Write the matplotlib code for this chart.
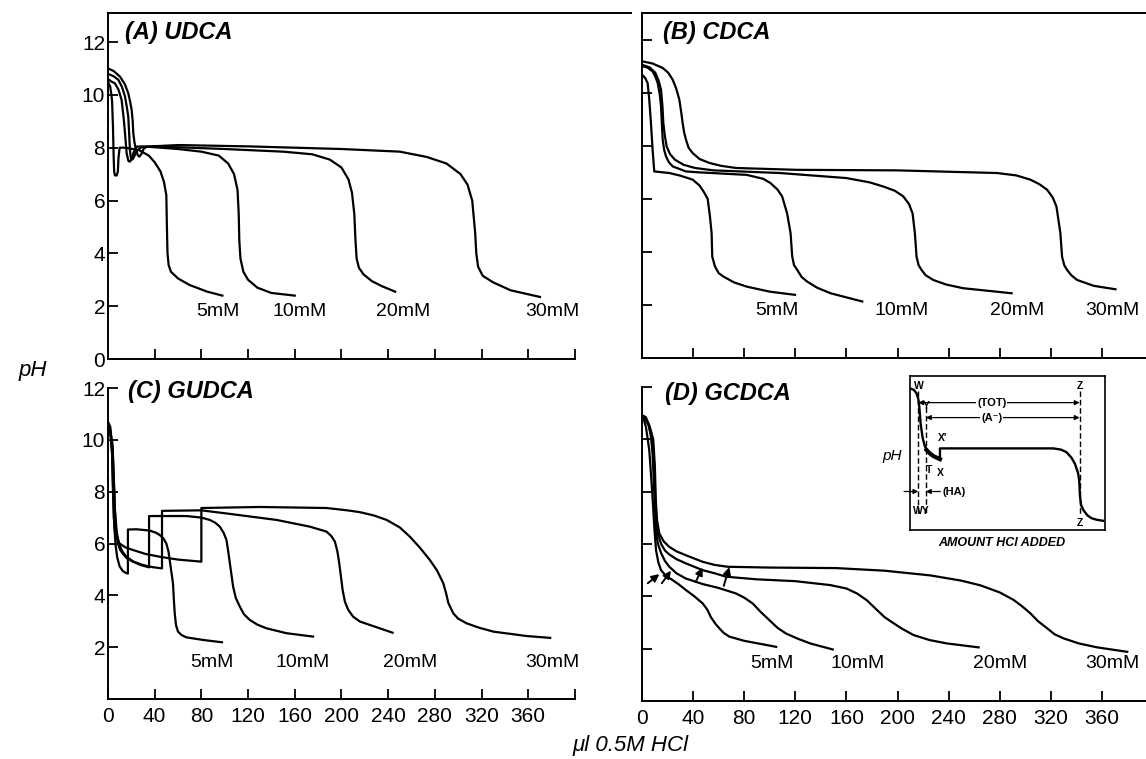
import matplotlib.pyplot as plt

plt.rcParams['font.family'] = ['Liberation Sans Narrow', 'Liberation Sans', 'DejaVu Sans']

# titration curves: (ul 0.5M HCl, pH)
udca_5 = [(0, 10.5), (2, 10.3), (3.5, 9.8), (4.3, 8.8), (4.8, 7.8), (5.3, 7.1), (6, 6.95), (7.5, 6.95),
          (8.5, 7.1), (9, 7.6), (10, 8.0), (15, 8.0), (27, 7.9), (35, 7.7), (40, 7.45), (45, 7.1),
          (48, 6.7), (50, 6.2), (50.5, 5.0), (51, 4.0), (52, 3.55), (54, 3.3), (60, 3.05), (70, 2.8),
          (85, 2.55), (98, 2.4)]
udca_10 = [(0, 10.6), (3, 10.5), (5.9, 10.44), (9, 10.2), (11.7, 9.81), (13.5, 9.1), (14.6, 8.55),
           (16, 7.79), (17.5, 7.5), (18.8, 7.47), (20.5, 7.6), (21.7, 7.79), (24.5, 8.04), (30, 8.05),
           (60, 7.95), (80, 7.85), (95, 7.7), (103, 7.4), (108, 7.0), (111, 6.4), (112, 5.5),
           (112.5, 4.5), (113.5, 3.8), (116, 3.3), (120, 3.0), (128, 2.7), (140, 2.5), (160, 2.4)]
udca_20 = [(0, 10.8), (5, 10.7), (8.9, 10.57), (12, 10.3), (14.6, 9.94), (16.3, 9.5), (17.4, 9.18),
           (18.2, 8.5), (18.8, 7.92), (19.5, 7.65), (20.3, 7.54), (21.5, 7.58), (22.8, 7.7),
           (25, 7.9), (28.8, 8.02), (40, 8.05), (100, 7.95), (150, 7.85), (175, 7.75), (190, 7.55),
           (200, 7.25), (206, 6.8), (209, 6.3), (211, 5.5), (212, 4.5), (213, 3.8), (215, 3.45),
           (219, 3.2), (226, 2.95), (235, 2.75), (246, 2.55)]
udca_30 = [(0, 11.0), (5, 10.9), (10.3, 10.69), (14.5, 10.4), (17.4, 10.06), (19.2, 9.7), (20.3, 9.43),
           (21.2, 9.0), (21.7, 8.55), (22.7, 8.2), (24, 7.92), (25.5, 7.72), (26.8, 7.66), (28.5, 7.75),
           (30.5, 7.95), (33, 8.04), (60, 8.1), (120, 8.05), (200, 7.95), (250, 7.85), (273, 7.65),
           (290, 7.4), (302, 7.0), (308, 6.6), (312, 6.0), (314.5, 4.8), (315.5, 4.0), (317, 3.5),
           (321, 3.15), (330, 2.9), (345, 2.6), (370, 2.35)]

cdca_5 = [(0, 10.68), (2.5, 10.55), (4.4, 10.36), (5.6, 9.8), (7, 8.86), (8.3, 7.85), (9.6, 7.03),
          (21.4, 6.97), (30, 6.87), (39.7, 6.72), (45, 6.5), (48.5, 6.25), (51.4, 6.0), (53.2, 5.33),
          (54.5, 4.7), (55, 3.82), (57.1, 3.45), (60, 3.2), (63.7, 3.07), (72, 2.85), (82, 2.69),
          (100, 2.5), (119.8, 2.38)]
cdca_10 = [(0, 11.0), (4, 10.95), (8.3, 10.8), (10.5, 10.6), (12.3, 10.36), (14, 9.9), (14.9, 9.48),
           (15.6, 8.8), (16.2, 8.23), (17.3, 7.85), (18.8, 7.6), (21, 7.38), (24, 7.22), (34.4, 7.03),
           (43, 7.0), (82, 6.9), (95, 6.75), (100.6, 6.59), (106, 6.35), (109.7, 6.09), (113.6, 5.45),
           (116.3, 4.7), (117.6, 3.82), (119, 3.5), (121.5, 3.32), (125, 3.05), (129.3, 2.88),
           (137, 2.65), (147.6, 2.44), (172.4, 2.13)]
cdca_20 = [(0, 11.05), (6, 10.95), (10.4, 10.75), (13, 10.45), (14.9, 10.11), (16, 9.5), (16.7, 8.86),
           (17.8, 8.4), (19.3, 7.97), (22, 7.68), (25.8, 7.47), (32.6, 7.28), (41.5, 7.16), (56, 7.07),
           (108, 6.97), (160, 6.78), (178, 6.62), (189, 6.46), (198, 6.3), (204.5, 6.09), (209, 5.8),
           (211.8, 5.45), (213.6, 4.7), (214.9, 3.82), (216.5, 3.5), (218.8, 3.32), (222, 3.12),
           (228, 2.94), (238, 2.77), (251.4, 2.63), (289.3, 2.44)]
cdca_30 = [(0, 11.18), (8, 11.1), (16.2, 10.93), (20.5, 10.75), (24, 10.49), (26.8, 10.15),
           (29.2, 9.74), (30.6, 9.3), (31.8, 8.86), (33, 8.5), (34.4, 8.23), (36.5, 7.92),
           (39.7, 7.72), (45, 7.5), (52.7, 7.35), (62, 7.24), (73.6, 7.16), (121.3, 7.09),
           (199.6, 7.07), (277.9, 6.97), (293, 6.88), (304, 6.72), (311, 6.55), (317.1, 6.34),
           (321.5, 6.05), (324.4, 5.71), (327.5, 4.7), (328.8, 3.82), (330.5, 3.5), (332.7, 3.32),
           (336, 3.12), (340.6, 2.94), (353.6, 2.72), (370.6, 2.59)]

gudca_5 = [(0, 10.6), (2, 10.3), (3.5, 9.5), (4.5, 8.0), (5.5, 6.6), (6.5, 5.95), (8, 5.45),
           (10, 5.12), (12.5, 4.95), (15, 4.87), (17.1, 4.84), (17.1, 6.54), (24.3, 6.55),
           (35.7, 6.5), (41, 6.42), (44.3, 6.33), (47.5, 6.2), (50, 6.0), (51.8, 5.7), (52.9, 5.36),
           (55.7, 4.46), (56.5, 3.8), (57.2, 3.3), (58.3, 2.85), (60, 2.6), (63, 2.47), (67.2, 2.38),
           (81.4, 2.28), (97.7, 2.19)]
gudca_10 = [(0, 10.6), (2, 10.4), (4, 9.8), (5, 8.5), (6, 7.2), (7.1, 6.4), (8.5, 6.0), (10.5, 5.75),
            (12.9, 5.6), (16, 5.44), (21.4, 5.3), (28, 5.17), (35.2, 5.08), (35.2, 7.06), (67.2, 7.06),
            (80, 7.0), (87.2, 6.91), (92, 6.8), (95.8, 6.65), (99, 6.42), (101.5, 6.14), (103, 5.7),
            (104.4, 5.24), (107.2, 4.34), (109.5, 3.9), (112.9, 3.57), (116.5, 3.27), (121.5, 3.05),
            (128, 2.87), (135.7, 2.73), (152.9, 2.54), (175.7, 2.41)]
gudca_20 = [(0, 10.5), (2, 10.3), (4, 9.6), (5, 8.5), (6, 7.3), (7.5, 6.45), (9.5, 6.0), (12, 5.72),
            (15.7, 5.49), (22, 5.3), (30, 5.17), (38, 5.09), (46.3, 5.04), (46.3, 7.26), (80, 7.28),
            (101.5, 7.16), (144.4, 6.91), (173, 6.65), (187.2, 6.46), (191.5, 6.28), (194.4, 6.07),
            (196.5, 5.7), (198.1, 5.24), (201, 4.21), (203, 3.75), (205.8, 3.44), (210, 3.18),
            (215.8, 2.99), (230.1, 2.77), (243.8, 2.56)]
gudca_30 = [(0, 10.7), (2, 10.5), (3.5, 9.5), (4.3, 8.0), (5, 7.0), (6, 6.5), (7.5, 6.2), (10, 6.0),
            (15, 5.85), (21.4, 5.75), (32, 5.6), (44.3, 5.49), (60, 5.38), (80, 5.3), (80, 7.37),
            (130, 7.41), (187.2, 7.37), (205, 7.28), (215.8, 7.21), (228, 7.08), (238.7, 6.91),
            (250, 6.62), (258.7, 6.26), (267, 5.85), (275.8, 5.36), (282, 4.95), (287.3, 4.46),
            (289.8, 4.05), (291.6, 3.7), (295.9, 3.3), (300, 3.1), (307.3, 2.92), (318, 2.75),
            (330.2, 2.6), (358.8, 2.43), (378.8, 2.36)]

gcdca_5 = [(0, 10.92), (1.5, 10.75), (3.1, 10.47), (4.5, 10.0), (5.7, 9.58), (7, 8.7), (8.4, 7.67),
           (9.7, 6.6), (11, 5.76), (12.8, 5.3), (14.9, 5.0), (18.5, 4.8), (24, 4.62), (29, 4.45),
           (34.4, 4.24), (41, 4.0), (47.5, 3.73), (51, 3.5), (54, 3.2), (57.5, 2.95), (60.5, 2.78),
           (64, 2.6), (68.4, 2.46), (80, 2.3), (105, 2.07)]
gcdca_10 = [(0, 10.92), (2.5, 10.8), (5.2, 10.55), (7, 10.1), (8.2, 9.5), (9, 8.7), (10, 7.5),
            (11, 6.41), (12.5, 6.0), (15, 5.65), (18, 5.35), (21.4, 5.13), (27, 4.88), (34.4, 4.68),
            (47.5, 4.47), (60, 4.32), (73.6, 4.11), (80, 3.95), (86.6, 3.73), (93, 3.4),
            (99.7, 3.09), (106, 2.8), (112.7, 2.58), (122, 2.38), (131.7, 2.2), (149.3, 1.97)]
gcdca_20 = [(0, 10.92), (3, 10.8), (5.7, 10.47), (8.4, 9.96), (9.7, 8.94), (10.4, 7.67), (11.2, 6.9),
            (12.3, 6.41), (15, 6.0), (18, 5.75), (21.4, 5.6), (27, 5.42), (34.4, 5.26), (47.5, 5.0),
            (57, 4.88), (65.8, 4.75), (90, 4.65), (120, 4.58), (147.4, 4.43), (160, 4.3),
            (168.3, 4.11), (176, 3.85), (183.9, 3.48), (190, 3.2), (197, 2.97), (204, 2.75),
            (212.6, 2.52), (225, 2.33), (238.7, 2.2), (263.5, 2.05)]
gcdca_30 = [(0, 10.92), (3, 10.85), (6, 10.5), (8.8, 10.0), (10.1, 8.94), (10.8, 7.67),
            (11.8, 6.9), (13.6, 6.4), (17, 6.1), (21.4, 5.89), (27, 5.72), (34.4, 5.57), (47.5, 5.32),
            (57, 5.2), (67.1, 5.13), (100, 5.1), (151.9, 5.08), (190, 4.98), (225.7, 4.8),
            (250, 4.6), (264.9, 4.42), (280, 4.15), (291, 3.86), (298, 3.6), (304, 3.35),
            (310, 3.05), (317.1, 2.78), (323, 2.55), (330.2, 2.39), (342, 2.2), (356.3, 2.05),
            (379.8, 1.88)]

# arrows marking the break points in GCDCA: (tail x, tail pH, tip x, tip pH)
gcdca_arrows = [(4.5, 4.5, 13.6, 4.85), (15.5, 4.5, 22.7, 4.98), (42.0, 4.55, 47.5, 5.1),
                (64.0, 4.4, 68.4, 5.12)]

conc = ['5mM', '10mM', '20mM', '30mM']
udca_lab_x = [94, 164, 253, 381]
cdca_lab_x = [106, 203, 294, 368]
gudca_lab_x = [89, 167, 259, 381]
gcdca_lab_x = [102, 169, 280, 368]

# schematic inset (arbitrary units 0-100)
inset_curve = [(0, 92), (2, 91), (3.4, 88.7), (4.3, 85), (4.8, 80), (5.5, 69), (6.5, 60), (7.5, 55),
               (8.5, 52), (10, 50), (12, 48), (15.4, 46), (15.4, 53), (73.5, 53), (77.5, 52.2),
               (80.3, 50.5), (82.8, 47), (84.6, 43), (86.2, 37), (86.8, 32), (87.2, 21.6),
               (87.8, 16), (88.9, 13), (91, 9.5), (93.2, 7.6), (96, 6.6), (99, 6)]

fig = plt.figure(figsize=(11.46, 7.59), dpi=100)
axA = fig.add_axes([0.0942, 0.527, 0.4075, 0.4559])
axB = fig.add_axes([0.5602, 0.5283, 0.4398, 0.4546])
axC = fig.add_axes([0.0942, 0.079, 0.4075, 0.4098])
axD = fig.add_axes([0.5602, 0.0764, 0.4398, 0.4137])

panels = [
    (axA, [udca_5, udca_10, udca_20, udca_30], udca_lab_x, 1.8, '(A) UDCA', 14.6, 12.35),
    (axB, [cdca_5, cdca_10, cdca_20, cdca_30], cdca_lab_x, 1.8, '(B) CDCA', 16.4, 12.25),
    (axC, [gudca_5, gudca_10, gudca_20, gudca_30], gudca_lab_x, 1.4, '(C) GUDCA', 17, 11.85),
    (axD, [gcdca_5, gcdca_10, gcdca_20, gcdca_30], gcdca_lab_x, 1.45, '(D) GCDCA', 18, 11.75),
]

for ax, curves, lab_x, lab_y, title, tx, ty in panels:
    for c in curves:
        ax.plot([p[0] for p in c], [p[1] for p in c], color='black', lw=1.6,
                solid_joinstyle='round')
    for name, x in zip(conc, lab_x):
        ax.text(x, lab_y, name, ha='center', va='center', fontsize=14, clip_on=False)
    ax.text(tx, ty, title, ha='left', va='center', fontsize=17, style='italic',
            fontweight='bold', clip_on=False)
    ax.spines['right'].set_visible(False)
    for s in ax.spines.values():
        s.set_linewidth(1.4)
    ax.tick_params(direction='in', length=7, width=1.3, labelsize=15)

for ax in (axA, axC):
    ax.set_xlim(0, 400)
    ax.set_xticks(range(40, 401, 40))
for ax in (axB, axD):
    ax.set_xlim(0, 394.5)
    ax.set_xticks(range(40, 361, 40))

axA.set_ylim(0, 13.1)
axB.set_ylim(0, 13.0)
axC.set_ylim(0, 12)
axD.set_ylim(0, 12)
for ax in (axC, axD):
    ax.spines['top'].set_visible(False)

axA.set_yticks(range(0, 13, 2))
axA.set_xticklabels([])
axB.set_yticks(range(2, 13, 2))
axB.set_yticklabels([])
axB.set_xticklabels([])
axC.set_yticks(range(2, 13, 2))
axC.set_xticks(range(0, 401, 40))
axC.set_xticklabels([str(v) for v in range(0, 361, 40)] + [''])
axD.set_yticks(range(2, 13, 2))
axD.set_yticklabels([])
axD.set_xticks(range(0, 361, 40))
axD.set_xticklabels([str(v) for v in range(0, 361, 40)])
for ax in (axC, axD):
    ax.tick_params(axis='x', pad=6)
    ax.tick_params(axis='y', pad=2)
axA.tick_params(axis='y', pad=2)

# top rule of panel A runs on to panel B
axA.plot([1, 1.12], [1, 1], transform=axA.transAxes, color='black', lw=1.4, clip_on=False)

for tx0, ty0, tx1, ty1 in gcdca_arrows:
    axD.annotate('', xy=(tx1, ty1), xytext=(tx0, ty0),
                 arrowprops=dict(arrowstyle='-|>', color='black', lw=1.4, mutation_scale=11,
                                 shrinkA=0, shrinkB=0))

fig.text(0.016, 0.512, 'pH', fontsize=16, style='italic', ha='left', va='center')
fig.text(0.55, 0.018, 'μl 0.5M HCl', fontsize=16, style='italic', ha='center', va='center')

# inset schematic
axI = fig.add_axes([0.794, 0.3017, 0.1702, 0.2029])
axI.set_xlim(0, 100)
axI.set_ylim(0, 100)
axI.set_xticks([])
axI.set_yticks([])
for s in axI.spines.values():
    s.set_linewidth(1.2)
axI.plot([p[0] for p in inset_curve], [p[1] for p in inset_curve], color='black', lw=1.7,
         solid_joinstyle='round')
axI.plot([8.5, 10, 12, 15.4], [52, 50, 48, 46], color='black', lw=3)
for xv, y0 in ((4.3, 90), (8.2, 80), (87, 90)):
    axI.plot([xv, xv], [y0, 10], color='black', lw=1.0, ls=(0, (4, 2)))
axI.annotate('', xy=(87, 82.7), xytext=(4.3, 82.7),
             arrowprops=dict(arrowstyle='<|-|>', color='black', lw=0.9, mutation_scale=7,
                             shrinkA=0, shrinkB=0))
axI.annotate('', xy=(87, 73), xytext=(8.2, 73),
             arrowprops=dict(arrowstyle='<|-|>', color='black', lw=0.9, mutation_scale=7,
                             shrinkA=0, shrinkB=0))
axI.text(41.9, 82.7, '(TOT)', ha='center', va='center', fontsize=8, fontweight='bold',
         bbox=dict(facecolor='white', edgecolor='none', pad=0.5))
axI.text(41.9, 73, '(A⁻)', ha='center', va='center', fontsize=8, fontweight='bold',
         bbox=dict(facecolor='white', edgecolor='none', pad=0.5))
axI.annotate('', xy=(4.3, 25), xytext=(-3, 25),
             arrowprops=dict(arrowstyle='-|>', color='black', lw=0.9, mutation_scale=7,
                             shrinkA=0, shrinkB=0),
             annotation_clip=False)
axI.annotate('', xy=(8.2, 25), xytext=(15.5, 25),
             arrowprops=dict(arrowstyle='-|>', color='black', lw=0.9, mutation_scale=7,
                             shrinkA=0, shrinkB=0))
axI.text(16.5, 25, '(HA)', ha='left', va='center', fontsize=8, fontweight='bold')
for lx, ly, s in ((4.8, 93.5, 'W'), (87, 93.5, 'Z'), (8.5, 80.5, 'Y'), (16.5, 59.5, "X'"),
                  (10, 39, 'T'), (15.7, 37, 'X'), (6, 12.5, 'WY'), (87, 4.5, 'Z')):
    axI.text(lx, ly, s, ha='center', va='center', fontsize=7.5, fontweight='bold', clip_on=False)
axI.text(-0.09, 0.48, 'pH', transform=axI.transAxes, fontsize=11, style='italic',
         ha='center', va='center')
axI.text(0.47, -0.085, 'AMOUNT HCl ADDED', transform=axI.transAxes, fontsize=9, style='italic',
         fontweight='bold', ha='center', va='center')

fig.savefig('out.png', dpi=100)
